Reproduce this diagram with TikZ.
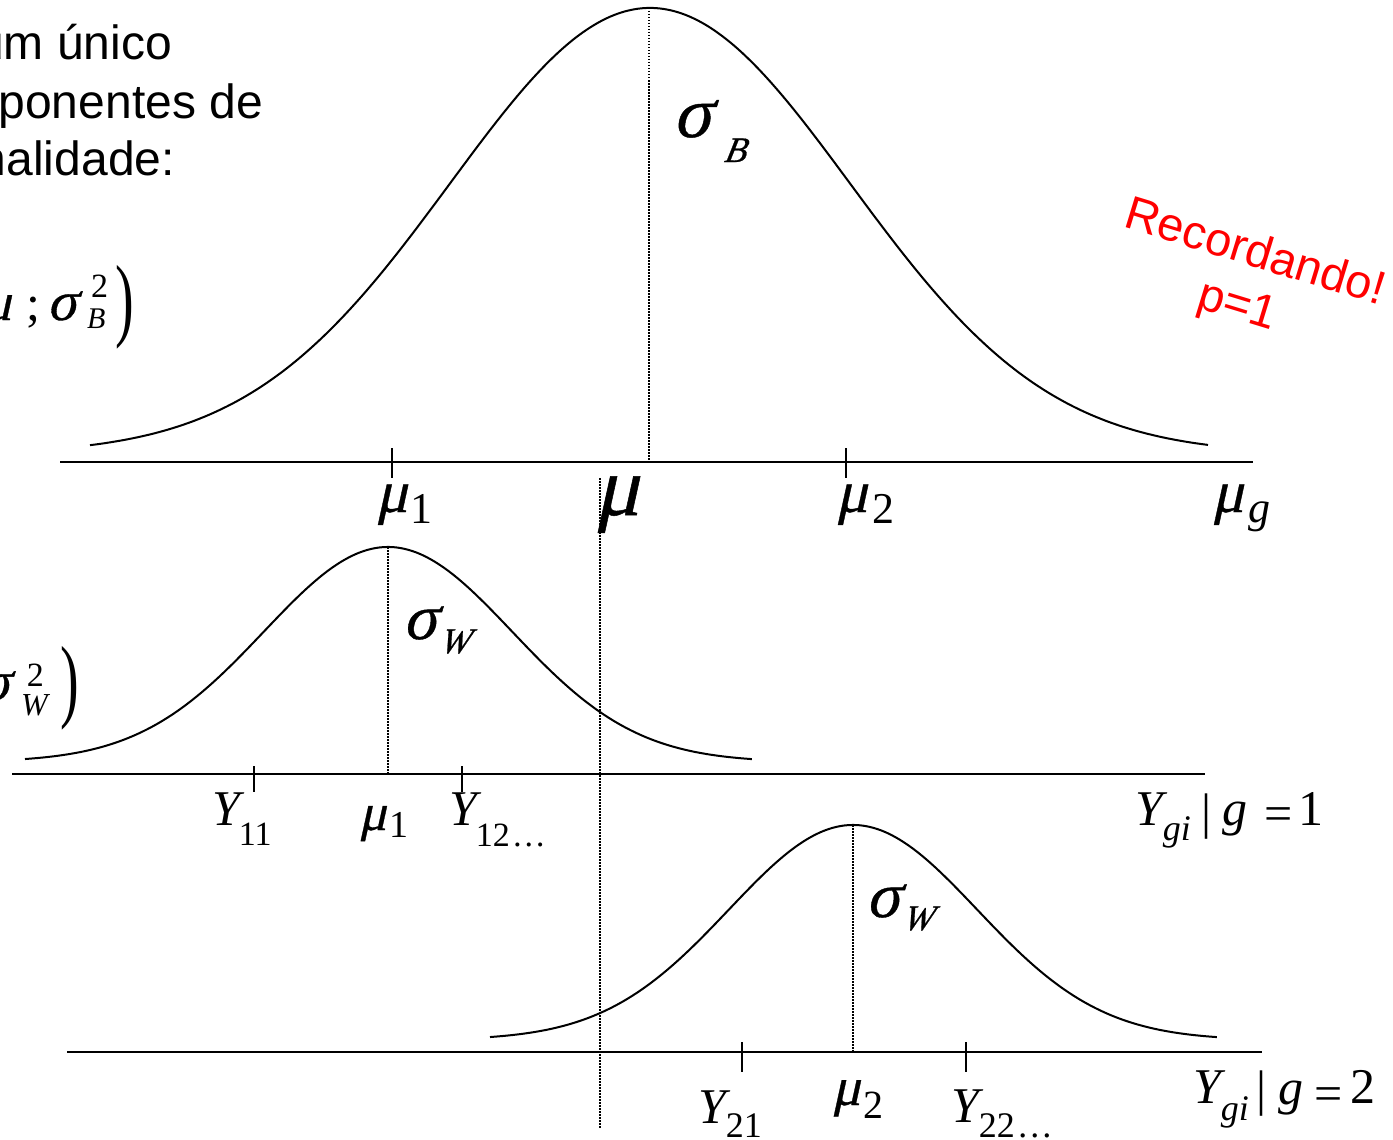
\documentclass[tikz,border=0pt]{standalone}
\usepackage{fontspec}
\setmainfont{Liberation Sans}
\newfontfamily\tms{Liberation Serif}
\newfontfamily\grk[FakeSlant=0.22,FakeBold=0.6]{Liberation Serif}
\newcommand\fsz[1]{\fontsize{#1}{#1}\selectfont}
\begin{document}
\begin{tikzpicture}[x=1pt,y=-1pt,
  curve/.style={line width=2pt, line join=round},
  axisline/.style={line width=2pt},
  tickmark/.style={line width=2pt},
  guide/.style={line width=1.5pt, dash pattern=on 1.5pt off 1.5pt},
  lbl/.style={inner sep=0pt, outer sep=0pt, anchor=base west, font=\tms},
  para/.style={inner sep=0pt, anchor=base east, font=\fsz{48}},
  note/.style={inner sep=0pt, text=red, font=\fsz{47}, rotate=-17}
]
\useasboundingbox (0,0) rectangle (1393,1140);
\clip (0,0) rectangle (1393,1140);

% ---- left text (clipped at the left edge)
\node[para] (t1) at (172,60) {um único};
\node[para] (t2) at (263,118) {ponentes de};
\node[para] (t3) at (175,175) {nalidade:};

% ---- left formulas
\node[lbl] (lmu) at (-17,320) {\fsz{54}\grk μ};
\node[lbl] (lsemi) at (26,320) {\fsz{50};};
\node[lbl] (lsig) at (47,320) {\fsz{56}\grk σ};
\node[lbl] (lsup) at (91,297) {\fsz{34}2};
\node[lbl] (lsb) at (87,328) {\fsz{30}\itshape B};
\node[inner sep=0pt] (lpar) at (125,307) {\scalebox{1}[1.65]{\fsz{56}\tms)}};

\node[lbl] (lsig2) at (-20,700) {\fsz{56}\grk σ};
\node[lbl] (lsup2) at (27,686) {\fsz{34}2};
\node[lbl] (lsw2) at (21,715) {\fsz{32}\itshape W};
\node[inner sep=0pt] (lpar2) at (70,688) {\scalebox{1}[1.65]{\fsz{56}\tms)}};

% ---- red note
\node[note] (rec) at (1256,250) {Recordando!};
\node[note] (p1) at (1237,308) {p=1};

% ---- top distribution
\coordinate (aL) at (60,462);  \coordinate (aR) at (1253,462);
\coordinate (pA) at (649,8);   \coordinate (pAb) at (649,462);
\draw[axisline] (aL) -- (aR);
\draw[curve] plot[domain=-5.6:5.58, samples=160, smooth] ({650+100*\x}, {462-8-446*exp(-\x*\x/8)});
\draw[guide] (pA) -- (pAb);
\draw[tickmark] (392,448) -- (392,478);
\draw[tickmark] (846,448) -- (846,478);

\node[lbl] (m1) at (376,512) {\fsz{60}\grk μ\hspace{2pt}\raisebox{-11pt}{\fsz{44}\tms 1}};
\node[lbl] (mu) at (595,515) {\fsz{84}\grk μ};
\node[lbl] (m2) at (836,512) {\fsz{60}\grk μ\hspace{4pt}\raisebox{-11pt}{\fsz{44}\tms 2}};
\node[lbl] (mg) at (1212,512) {\fsz{60}\grk μ\hspace{4pt}\raisebox{-10pt}{\fsz{44}\tms\itshape g}};
\node[lbl] (sb) at (673,137) {\fsz{72}\grk σ\hspace{12pt}\raisebox{-25pt}{\fsz{36}\itshape B}};

% ---- long dotted line through mu
\coordinate (gT) at (600,478); \coordinate (gB) at (600,1128);
\draw[guide] (gT) -- (gB);

% ---- group 1
\coordinate (bL) at (12,774);  \coordinate (bR) at (1205,774);
\coordinate (pB) at (388,547); \coordinate (pBb) at (388,774);
\draw[axisline] (bL) -- (bR);
\draw[curve] plot[domain=-3.63:3.64, samples=120, smooth] ({388+100*\x}, {774-12-215*exp(-\x*\x/3.0805)});
\draw[guide] (pB) -- (pBb);
\draw[tickmark] (254,766) -- (254,792);
\draw[tickmark] (462,766) -- (462,792);

\node[lbl] (sw1) at (403,639) {\fsz{64}\grk σ\hspace{2pt}\raisebox{-14pt}{\fsz{36}\itshape W}};
\node[lbl] (y11) at (212,825) {\fsz{50}\itshape Y\hspace{-1pt}\raisebox{-20pt}{\fsz{34}\upshape 11}};
\node[lbl] (m1b) at (359,830) {\fsz{52}\grk μ\hspace{3pt}\raisebox{-7pt}{\fsz{38}\tms 1}};
\node[lbl] (y12) at (449,825) {\fsz{50}\itshape Y\hspace{-1pt}\raisebox{-21pt}{\fsz{34}\upshape 12\hspace{2pt}…}};

\node[lbl] (ya) at (1135,825) {\fsz{50}\itshape Y\raisebox{-15pt}{\fsz{36}gi}};
\node[lbl] (bara) at (1201,828) {\fsz{50}|};
\node[lbl] (ga) at (1222,825) {\fsz{50}\itshape g};
\node[lbl] (eqa) at (1264,830) {\fsz{50}=};
\node[lbl] (na) at (1298,825) {\fsz{50}1};

% ---- group 2
\coordinate (cL) at (67,1052);  \coordinate (cR) at (1262,1052);
\coordinate (pC) at (853,825);  \coordinate (pCb) at (853,1052);
\draw[axisline] (cL) -- (cR);
\draw[curve] plot[domain=-3.63:3.64, samples=120, smooth] ({853+100*\x}, {1052-12-215*exp(-\x*\x/3.0805)});
\draw[guide] (pC) -- (pCb);
\draw[tickmark] (742,1042) -- (742,1072);
\draw[tickmark] (966,1042) -- (966,1072);

\node[lbl] (sw2) at (866,917) {\fsz{64}\grk σ\hspace{2pt}\raisebox{-13pt}{\fsz{36}\itshape W}};
\node[lbl] (y21) at (698,1123) {\fsz{50}\itshape Y\raisebox{-14pt}{\fsz{36}\upshape 21}};
\node[lbl] (m2b) at (832,1105) {\fsz{54}\grk μ\hspace{3pt}\raisebox{-13pt}{\fsz{40}\tms 2}};
\node[lbl] (y22) at (951,1122) {\fsz{50}\itshape Y\raisebox{-15pt}{\fsz{36}\upshape 22\hspace{2pt}…}};

\node[lbl] (yb) at (1193,1103) {\fsz{50}\itshape Y\raisebox{-17pt}{\fsz{36}gi}};
\node[lbl] (barb) at (1256,1105) {\fsz{50}|};
\node[lbl] (gb) at (1278,1104) {\fsz{50}\itshape g};
\node[lbl] (eqb) at (1314,1110) {\fsz{50}=};
\node[lbl] (nb) at (1350,1103) {\fsz{50}2};
\end{tikzpicture}
\end{document}
